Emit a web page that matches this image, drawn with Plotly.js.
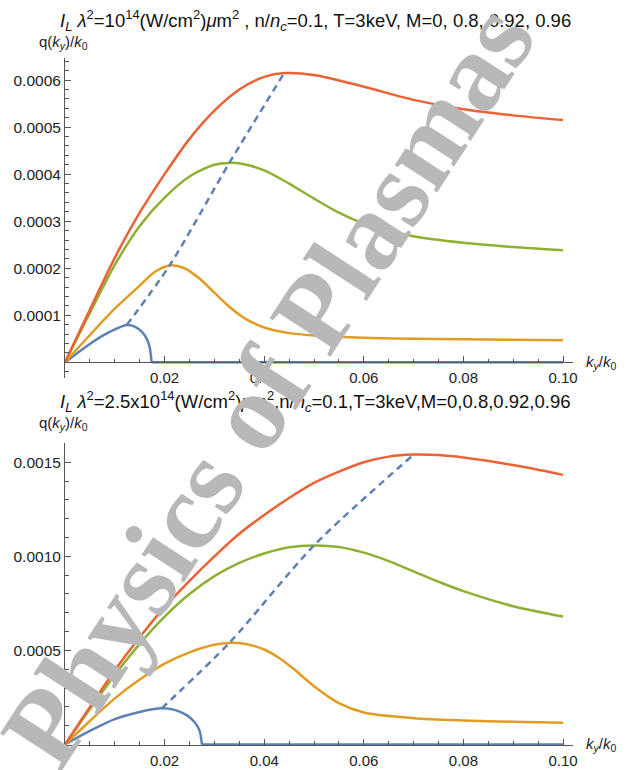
<!DOCTYPE html>
<html>
<head>
<meta charset="utf-8">
<script src="https://cdn.plot.ly/plotly-3.0.1.min.js"></script>
<style>html,body{margin:0;padding:0;background:#fff;}#chart{width:633px;height:770px;}</style>
</head>
<body>
<div id="chart"></div>
<script>
// ---------- Top panel: I_L λ² = 1e14 ----------
const topRedX = [0, 0.005, 0.01, 0.015, 0.02, 0.025, 0.03, 0.035, 0.04, 0.044, 0.05, 0.06, 0.07, 0.08, 0.09, 0.10];
const topRedY = [0, 0.000112, 0.000222, 0.000318, 0.000400, 0.000475, 0.000535, 0.000580, 0.000607, 0.000615, 0.000611, 0.000586, 0.000558, 0.000538, 0.000525, 0.000515];
const topGreenX = [0, 0.005, 0.01, 0.015, 0.02, 0.025, 0.03, 0.033, 0.036, 0.04, 0.045, 0.05, 0.055, 0.06, 0.07, 0.08, 0.09, 0.10];
const topGreenY = [0, 0.000105, 0.000207, 0.000290, 0.000350, 0.000395, 0.000420, 0.000424, 0.000421, 0.000408, 0.000380, 0.000348, 0.000318, 0.000295, 0.000268, 0.000254, 0.000245, 0.000238];
const topOrangeX = [0, 0.005, 0.01, 0.015, 0.018, 0.021, 0.024, 0.027, 0.03, 0.033, 0.036, 0.04, 0.045, 0.05, 0.06, 0.07, 0.08, 0.09, 0.10];
const topOrangeY = [0, 0.000058, 0.000114, 0.000163, 0.000192, 0.000206, 0.000200, 0.000178, 0.000148, 0.000118, 0.000094, 0.000074, 0.000062, 0.000057, 0.000052, 0.000050, 0.000049, 0.000048, 0.000047];
const topBlueX = [0, 0.0025, 0.005, 0.0075, 0.01, 0.0124, 0.014, 0.0155, 0.0165, 0.017, 0.0174];
const topBlueY = [0, 0.000020, 0.000039, 0.000056, 0.000070, 0.0000793, 0.000076, 0.000064, 0.000048, 0.000032, 0];
const topBlueZeroX = [0.0174, 0.10];
const topBlueZeroY = [0, 0];
const topPeakX = [0.0124, 0.021, 0.033, 0.044];
const topPeakY = [0.0000793, 0.000206, 0.000424, 0.000615];

// ---------- Bottom panel: I_L λ² = 2.5e14 ----------
const botRedX = [0, 0.005, 0.01, 0.015, 0.02, 0.025, 0.03, 0.035, 0.04, 0.045, 0.05, 0.055, 0.06, 0.065, 0.07, 0.075, 0.08, 0.09, 0.10];
const botRedY = [0, 0.000200, 0.000395, 0.000570, 0.000730, 0.000870, 0.001000, 0.001120, 0.001220, 0.001310, 0.001390, 0.001450, 0.001500, 0.001530, 0.001541, 0.001538, 0.001525, 0.001485, 0.001433];
const botGreenX = [0, 0.005, 0.01, 0.015, 0.02, 0.025, 0.03, 0.035, 0.04, 0.045, 0.05, 0.055, 0.06, 0.065, 0.07, 0.075, 0.08, 0.09, 0.10];
const botGreenY = [0, 0.000188, 0.000370, 0.000535, 0.000680, 0.000800, 0.000895, 0.000965, 0.001015, 0.001048, 0.001058, 0.001050, 0.001020, 0.000975, 0.000920, 0.000865, 0.000815, 0.000735, 0.000680];
const botOrangeX = [0, 0.005, 0.01, 0.015, 0.02, 0.025, 0.03, 0.033, 0.036, 0.04, 0.043, 0.046, 0.05, 0.055, 0.06, 0.07, 0.08, 0.09, 0.10];
const botOrangeY = [0, 0.000125, 0.000245, 0.000345, 0.000430, 0.000490, 0.000530, 0.000540, 0.000535, 0.000505, 0.000460, 0.000400, 0.000310, 0.000220, 0.000170, 0.000140, 0.000128, 0.000121, 0.000116];
const botBlueX = [0, 0.005, 0.01, 0.015, 0.0194, 0.022, 0.0245, 0.026, 0.027, 0.0275];
const botBlueY = [0, 0.000072, 0.000135, 0.000173, 0.000192, 0.000184, 0.000155, 0.000120, 0.000075, 0];
const botBlueZeroX = [0.0275, 0.10];
const botBlueZeroY = [0, 0];
const botPeakX = [0.0194, 0.033, 0.05, 0.07];
const botPeakY = [0.000192, 0.000540, 0.001058, 0.001541];

// ---------- Ticks ----------
const xTickVals = [0.02, 0.04, 0.06, 0.08, 0.10];
const xTickText = ['0.02', '0.04', '0.06', '0.08', '0.10'];
const xMinorVals = [0.005, 0.01, 0.015, 0.025, 0.03, 0.035, 0.045, 0.05, 0.055, 0.065, 0.07, 0.075, 0.085, 0.09, 0.095];
const topYTickVals = [0.0001, 0.0002, 0.0003, 0.0004, 0.0005, 0.0006];
const topYTickText = ['0.0001', '0.0002', '0.0003', '0.0004', '0.0005', '0.0006'];
const topYMinorVals = [-0.00002, 0.00002, 0.00004, 0.00006, 0.00008, 0.00012, 0.00014, 0.00016, 0.00018, 0.00022, 0.00024, 0.00026, 0.00028, 0.00032, 0.00034, 0.00036, 0.00038, 0.00042, 0.00044, 0.00046, 0.00048, 0.00052, 0.00054, 0.00056, 0.00058, 0.00062, 0.00064];
const botYTickVals = [0.0005, 0.0010, 0.0015];
const botYTickText = ['0.0005', '0.0010', '0.0015'];
const botYMinorVals = [0.0001, 0.0002, 0.0003, 0.0004, 0.0006, 0.0007, 0.0008, 0.0009, 0.0011, 0.0012, 0.0013, 0.0014, 0.0016];

const BLUE = '#5E81B5', ORANGE = '#E19C24', GREEN = '#8FB032', RED = '#EB6235';
const LW = 2.5;
const W = 633, H = 770;
const px = v => v / W;
const py = v => 1 - v / H;

function line(x, y, color, xa, ya, opts) {
  return {
    x: x, y: y, xaxis: xa, yaxis: ya, mode: 'lines', hoverinfo: 'skip',
    line: Object.assign({color: color, width: LW, shape: 'spline', smoothing: 0.8}, (opts && opts.line) || {})
  };
}

const traces = [
  line(topBlueZeroX, topBlueZeroY, BLUE, 'x', 'y', {line: {shape: 'linear'}}),
  line(topBlueX, topBlueY, BLUE, 'x', 'y'),
  line(topOrangeX, topOrangeY, ORANGE, 'x', 'y'),
  line(topGreenX, topGreenY, GREEN, 'x', 'y'),
  line(topRedX, topRedY, RED, 'x', 'y'),
  line(topPeakX, topPeakY, BLUE, 'x', 'y', {line: {dash: '7px,5px'}}),
  line(botBlueZeroX, botBlueZeroY, BLUE, 'x2', 'y2', {line: {shape: 'linear'}}),
  line(botBlueX, botBlueY, BLUE, 'x2', 'y2'),
  line(botOrangeX, botOrangeY, ORANGE, 'x2', 'y2'),
  line(botGreenX, botGreenY, GREEN, 'x2', 'y2'),
  line(botRedX, botRedY, RED, 'x2', 'y2'),
  line(botPeakX, botPeakY, BLUE, 'x2', 'y2', {line: {dash: '7px,5px'}})
];

const AX = '#555';
const FAM = 'Liberation Sans, Arial, sans-serif';
const XFONT = {family: FAM, size: 15, color: '#222'};
const YFONT = {family: FAM, size: 15.5, color: '#222'};

function xAxis(pos) {
  return {
    domain: [px(65), px(573)], range: [0, 0.102], anchor: 'free', position: pos,
    showline: true, linecolor: AX, linewidth: 1, zeroline: false, showgrid: false,
    ticks: 'inside', ticklen: 6, tickwidth: 1, tickcolor: AX,
    tickmode: 'array', tickvals: xTickVals, ticktext: xTickText, tickfont: XFONT, ticklabelstandoff: 2,
    minor: {tickmode: 'array', tickvals: xMinorVals, ticks: 'inside', ticklen: 3.5, tickwidth: 1, tickcolor: AX, showgrid: false},
    fixedrange: true
  };
}
function yAxis(dom, range, vals, text, minor, xa) {
  return {
    domain: dom, range: range, anchor: xa,
    showline: true, linecolor: AX, linewidth: 1, zeroline: false, showgrid: false,
    ticks: 'inside', ticklen: 6, tickwidth: 1, tickcolor: AX,
    tickmode: 'array', tickvals: vals, ticktext: text, tickfont: YFONT, ticklabelstandoff: 0,
    minor: {tickmode: 'array', tickvals: minor, ticks: 'inside', ticklen: 3.5, tickwidth: 1, tickcolor: AX, showgrid: false},
    fixedrange: true
  };
}

const layout = {
  width: W, height: H, margin: {l: 0, r: 0, t: 0, b: 0, pad: 0},
  paper_bgcolor: '#fff', plot_bgcolor: 'rgba(0,0,0,0)', showlegend: false,
  font: XFONT,
  xaxis: xAxis(py(362.3)),
  yaxis: yAxis([py(378), py(58)], [-0.0000334, 0.000647], topYTickVals, topYTickText, topYMinorVals, 'x'),
  xaxis2: xAxis(py(744.5)),
  yaxis2: yAxis([py(760), py(442.7)], [-0.0000824, 0.001604], botYTickVals, botYTickText, botYMinorVals, 'x2'),
  annotations: [
    {xref: 'paper', yref: 'paper', x: px(315), y: py(20), xanchor: 'center', yanchor: 'middle', showarrow: false,
     font: {family: FAM, size: 18.5, color: '#111'},
     text: '<i>I<sub>L</sub></i> <i>λ</i><sup>2</sup>=10<sup>14</sup>(W/cm<sup>2</sup>)<i>μ</i>m<sup>2</sup> , n/<i>n<sub>c</sub></i>=0.1, T=3keV, M=0, 0.8, 0.92, 0.96'},
    {xref: 'paper', yref: 'paper', x: px(315), y: py(401), xanchor: 'center', yanchor: 'middle', showarrow: false,
     font: {family: FAM, size: 18.5, color: '#111'},
     text: '<i>I<sub>L</sub></i> <i>λ</i><sup>2</sup>=2.5x10<sup>14</sup>(W/cm<sup>2</sup>)<i>μ</i>m<sup>2</sup>,n/<i>n<sub>c</sub></i>=0.1,T=3keV,M=0,0.8,0.92,0.96'},
    {xref: 'paper', yref: 'paper', x: px(37), y: py(42), xanchor: 'left', yanchor: 'middle', showarrow: false,
     font: {family: FAM, size: 15, color: '#222'},
     text: 'q(<i>k<sub>y</sub></i>)/<i>k</i><sub>0</sub>'},
    {xref: 'paper', yref: 'paper', x: px(37), y: py(423), xanchor: 'left', yanchor: 'middle', showarrow: false,
     font: {family: FAM, size: 15, color: '#222'},
     text: 'q(<i>k<sub>y</sub></i>)/<i>k</i><sub>0</sub>'},
    {xref: 'paper', yref: 'paper', x: px(584), y: py(362), xanchor: 'left', yanchor: 'middle', showarrow: false,
     font: {family: FAM, size: 15, color: '#222'},
     text: '<i>k<sub>y</sub></i>/<i>k</i><sub>0</sub>'},
    {xref: 'paper', yref: 'paper', x: px(584), y: py(744), xanchor: 'left', yanchor: 'middle', showarrow: false,
     font: {family: FAM, size: 15, color: '#222'},
     text: '<i>k<sub>y</sub></i>/<i>k</i><sub>0</sub>'},
    {xref: 'paper', yref: 'paper', x: px(268), y: py(385), xanchor: 'center', yanchor: 'middle', showarrow: false,
     textangle: -57,
     font: {family: 'Liberation Serif, Times New Roman, serif', size: 110, color: '#b8b8b8'},
     text: '<b>Physics of Plasmas</b>'}
  ]
};

Plotly.newPlot('chart', traces, layout, {staticPlot: true, displayModeBar: false});
</script>
</body>
</html>
